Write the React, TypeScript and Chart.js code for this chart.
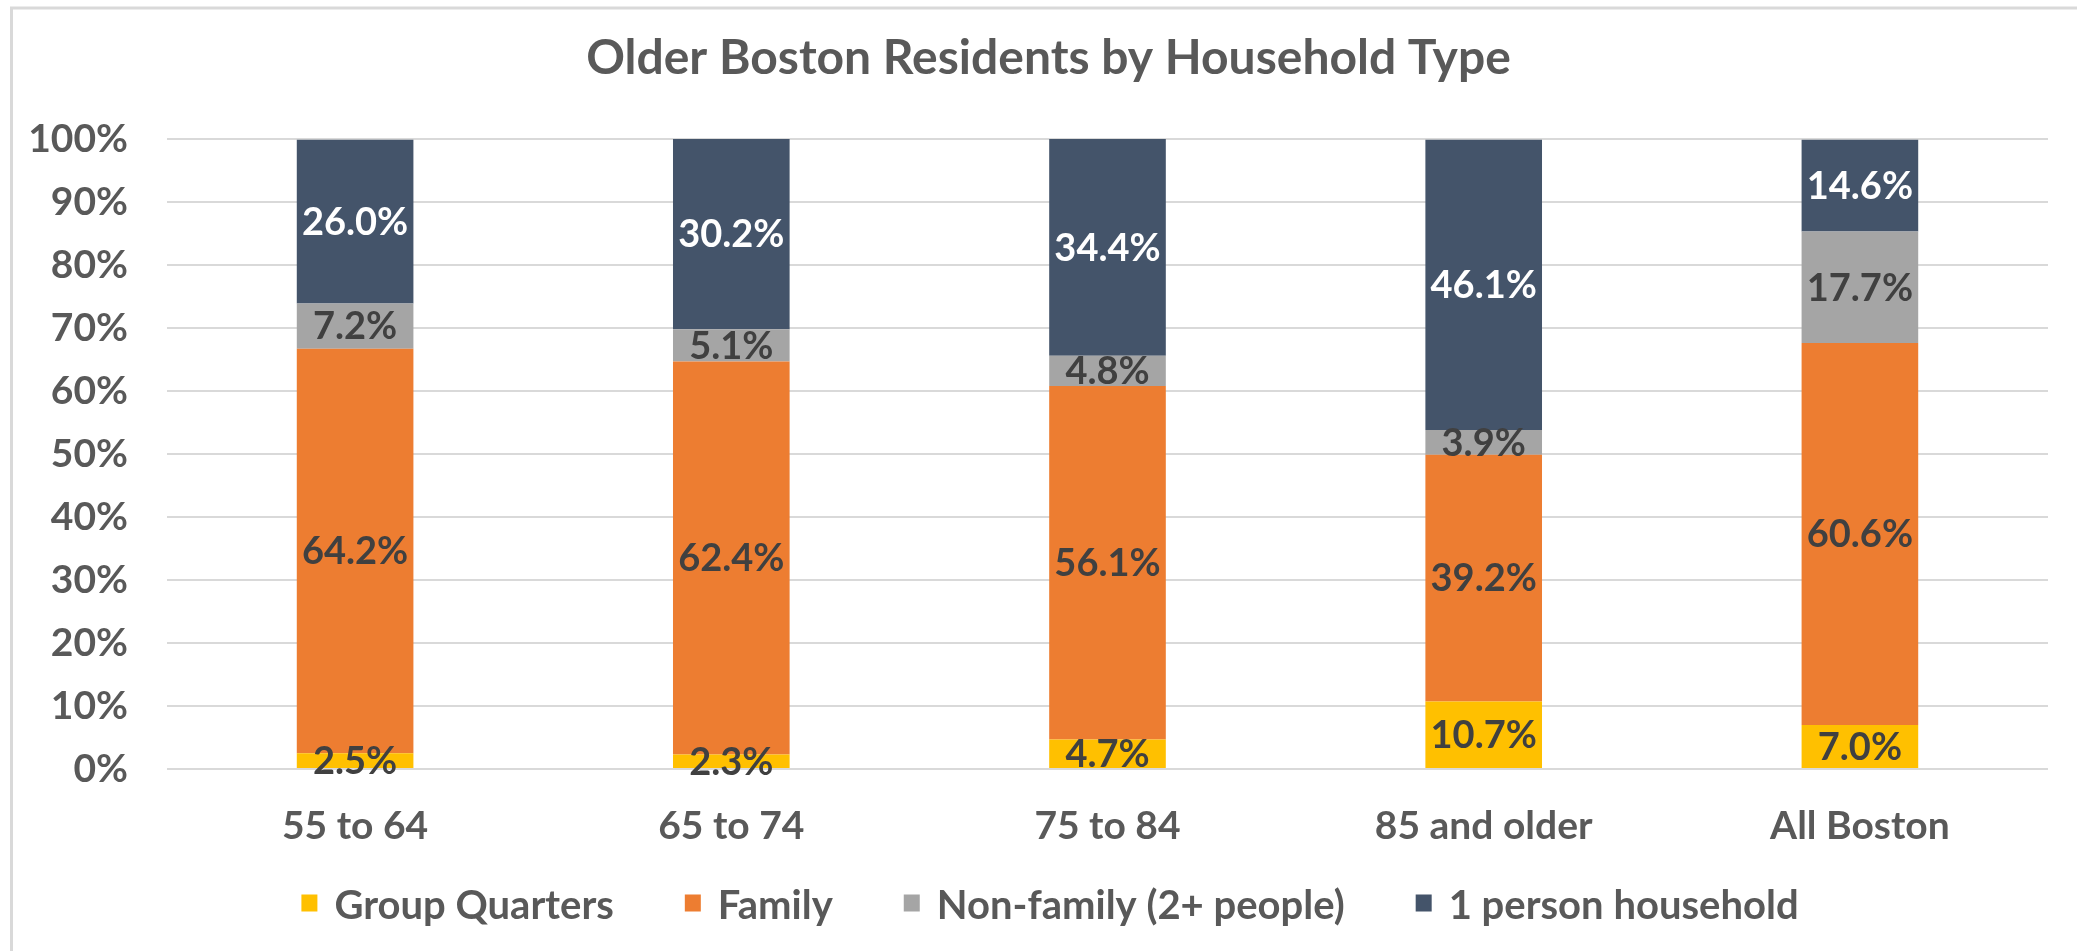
import React, { useEffect, useRef } from 'react';
import { Chart, registerables } from 'chart.js';

Chart.register(...registerables);

const titleText = 'Older Boston Residents by Household Type';
const categories = ['55 to 64', '65 to 74', '75 to 84', '85 and older', 'All Boston'];
const seriesNames = ['Group Quarters', 'Family', 'Non-family (2+ people)', '1 person household'];
const groupQuarters = [2.5, 2.3, 4.7, 10.7, 7.0];
const family = [64.2, 62.4, 56.1, 39.2, 60.6];
const nonFamily = [7.2, 5.1, 4.8, 3.9, 17.7];
const onePerson = [26.0, 30.2, 34.4, 46.1, 14.6];
const seriesColors = ['#FFC000', '#ED7D31', '#A5A5A5', '#44546A'];
const labelColors = ['#404040', '#404040', '#404040', '#FFFFFF'];
const yMin = 0;
const yMax = 100;
const yStep = 10;

const FONT = 'Lato, "Open Sans", sans-serif';
const TEXT_GRAY = '#595959';

const framePlugin = {
  id: 'frame',
  beforeDraw(chart: any) {
    const ctx = chart.ctx;
    ctx.save();
    ctx.fillStyle = '#FFFFFF';
    ctx.fillRect(0, 0, chart.width, chart.height);
    ctx.strokeStyle = '#D9D9D9';
    ctx.lineWidth = 3;
    ctx.beginPath();
    ctx.moveTo(11.5, chart.height);
    ctx.lineTo(11.5, 8);
    ctx.lineTo(chart.width, 8);
    ctx.stroke();
    ctx.restore();
  },
};

const valueLabelPlugin = {
  id: 'valueLabels',
  afterDatasetsDraw(chart: any) {
    const ctx = chart.ctx;
    chart.data.datasets.forEach((ds: any, i: number) => {
      const meta = chart.getDatasetMeta(i);
      meta.data.forEach((bar: any, j: number) => {
        const v = ds.data[j] as number;
        const p = bar.getProps(['x', 'y', 'base'], true);
        ctx.save();
        ctx.font = `bold 38px ${FONT}`;
        ctx.fillStyle = labelColors[i];
        ctx.textAlign = 'center';
        ctx.textBaseline = 'middle';
        ctx.fillText(v.toFixed(1) + '%', p.x, (p.y + p.base) / 2 + 1);
        ctx.restore();
      });
    });
  },
};

// Legend drawn below the axis labels, centred like the original
const bottomLegendPlugin = {
  id: 'bottomLegend',
  afterDraw(chart: any) {
    const ctx = chart.ctx;
    const boxW = 16;
    const boxH = 17;
    const gap = 17;
    const spacing = 71;
    const centerX = 1050;
    const centerY = 906;
    ctx.save();
    ctx.font = `bold 40px ${FONT}`;
    ctx.textBaseline = 'middle';
    ctx.textAlign = 'left';
    const items = chart.data.datasets.map((ds: any) => ({
      text: ds.label as string,
      color: ds.backgroundColor as string,
      w: ctx.measureText(ds.label).width,
    }));
    const total = items.reduce((s: number, it: any) => s + boxW + gap + it.w, 0) + spacing * (items.length - 1);
    let x = centerX - total / 2;
    items.forEach((it: any) => {
      ctx.fillStyle = it.color;
      ctx.fillRect(x, centerY - boxH / 2 - 3, boxW, boxH);
      ctx.fillStyle = TEXT_GRAY;
      ctx.fillText(it.text, x + boxW + gap, centerY);
      x += boxW + gap + it.w + spacing;
    });
    ctx.restore();
  },
};

export default function App() {
  const canvasRef = useRef<HTMLCanvasElement | null>(null);

  useEffect(() => {
    const canvas = canvasRef.current;
    if (!canvas) return;
    const seriesData = [groupQuarters, family, nonFamily, onePerson];
    const chart = new Chart(canvas, {
      type: 'bar',
      data: {
        labels: categories,
        datasets: seriesNames.map((name, i) => ({
          label: name,
          data: seriesData[i],
          backgroundColor: seriesColors[i],
          borderWidth: 0,
          barPercentage: 0.31,
          categoryPercentage: 1,
        })),
      },
      options: {
        animation: false,
        responsive: false,
        devicePixelRatio: 1,
        layout: { padding: { left: 20, right: 0, top: 0, bottom: 0 } },
        plugins: {
          title: {
            display: true,
            text: titleText,
            color: TEXT_GRAY,
            font: { family: FONT, size: 48, weight: 'bold', lineHeight: 1.2 },
            padding: { top: 30, bottom: 51.4 },
          },
          legend: { display: false },
          tooltip: { enabled: false },
        },
        scales: {
          x: {
            stacked: true,
            grid: { display: false, drawTicks: false },
            border: { display: false },
            ticks: {
              color: TEXT_GRAY,
              font: { family: FONT, size: 39, weight: 'bold', lineHeight: 1.2 },
              padding: 34,
              maxRotation: 0,
            },
            afterFit: (s: any) => {
              s.height = 182;
            },
          },
          y: {
            stacked: true,
            min: yMin,
            max: yMax,
            grid: { color: '#D9D9D9', lineWidth: 2, drawTicks: false },
            border: { display: false },
            ticks: {
              stepSize: yStep,
              color: TEXT_GRAY,
              font: { family: FONT, size: 39, weight: 'bold' },
              padding: 39,
              callback: (v: any) => v + '%',
            },
            afterFit: (s: any) => {
              s.width = 147;
            },
          },
          yRight: {
            type: 'linear',
            position: 'right',
            display: true,
            grid: { display: false, drawTicks: false },
            border: { display: false },
            ticks: { display: false },
            afterFit: (s: any) => {
              s.width = 29;
            },
          },
        },
      },
      plugins: [framePlugin, valueLabelPlugin, bottomLegendPlugin],
    });
    return () => chart.destroy();
  }, []);

  return (
    <div style={{ position: 'absolute', left: 0, top: 0, width: 2077, height: 951, background: '#fff' }}>
      <canvas ref={canvasRef} width={2077} height={951} style={{ display: 'block', width: 2077, height: 951 }} />
    </div>
  );
}
